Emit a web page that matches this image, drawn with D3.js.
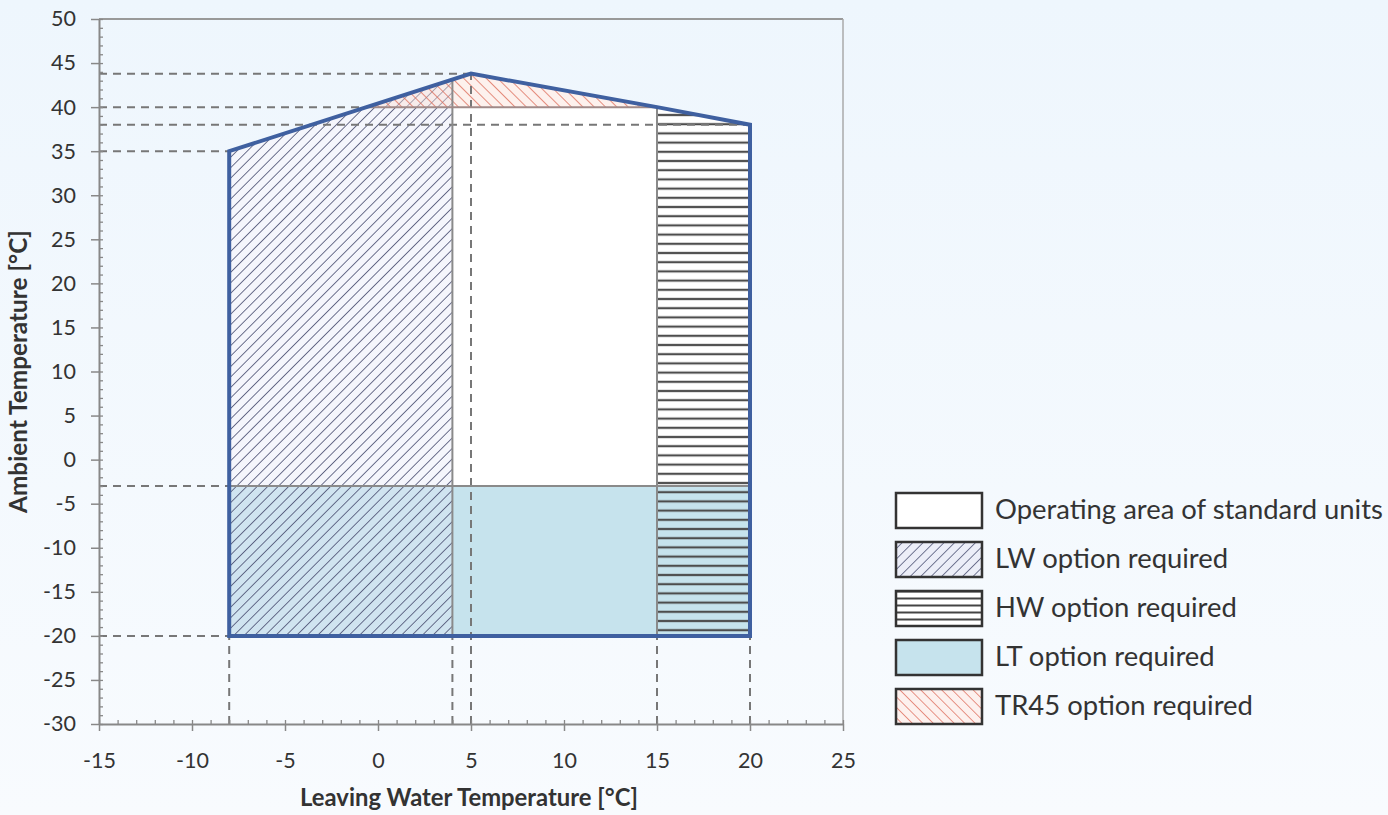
<!DOCTYPE html>
<html>
<head>
<meta charset="utf-8">
<script src="https://cdn.jsdelivr.net/npm/d3@7"></script>
<style>
  html, body { margin: 0; padding: 0; }
  body { width: 1388px; height: 815px; overflow: hidden;
         background: linear-gradient(#eef6fd, #f8fbfe); }
  text { font-family: Lato, "Open Sans", sans-serif; fill: #333; }
</style>
</head>
<body>
<svg id="chart" width="1388" height="815"></svg>
<script>
// ---------- data ----------
const xTicks = [-15, -10, -5, 0, 5, 10, 15, 20, 25];
const yTicks = [-30, -25, -20, -15, -10, -5, 0, 5, 10, 15, 20, 25, 30, 35, 40, 45, 50];
const envelopeX = [-8, -8, 5, 15, 20, 20];
const envelopeY = [-20, 35, 43.8, 40, 38, -20];
const lwRange = [-8, 4];          // LW option: leaving water range
const hwRange = [15, 20];         // HW option: leaving water range
const ltRange = [-20, -3];        // LT option: ambient range
const tr45Min = 40;               // TR45 option above this ambient
const refHY = [43.8, 40, 38, 35, -3, -20];      // horizontal dashed guide values
const refHXEnd = [5, null, 20, -8, -8, -8];    // x where guide ends (null = meets envelope)
const refVX = [-8, 4, 5, 15, 20];               // vertical dashed guide values
const refVYEnd = [-20, -20, 43.8, -20, -20];
const legendLabels = ["Operating area of standard units", "LW option required",
                      "HW option required", "LT option required", "TR45 option required"];
const legendFills = ["#ffffff", "url(#lwLeg)", "url(#hwLeg)", "#c6e3ed", "url(#trLeg)"];
const xTitle = "Leaving Water Temperature [°C]";
const yTitle = "Ambient Temperature [°C]";

// ---------- scales ----------
const svg = d3.select("#chart");
const x = d3.scaleLinear().domain([-15, 25]).range([99, 843]);
const y = d3.scaleLinear().domain([-30, 50]).range([724, 19]);
const fmt = d => String(d);   // plain hyphen-minus like the original

const envPts = envelopeX.map((v, i) => [v, envelopeY[i]]);
const topPts = envPts.slice(1, 5);
function topAt(xv) {
  for (let i = 0; i < topPts.length - 1; i++) {
    const [x0, y0] = topPts[i], [x1, y1] = topPts[i + 1];
    if (xv >= x0 && xv <= x1) return y0 + (y1 - y0) * (xv - x0) / (x1 - x0);
  }
  return null;
}
function xAtTopLeft(yv) {
  const [x0, y0] = topPts[0], [x1, y1] = topPts[1];
  return x0 + (x1 - x0) * (yv - y0) / (y1 - y0);
}

// ---------- patterns ----------
const defs = svg.append("defs");
function hatch(id, spacing, angle, color, width, bg) {
  const p = defs.append("pattern").attr("id", id).attr("patternUnits", "userSpaceOnUse")
    .attr("width", spacing).attr("height", spacing)
    .attr("patternTransform", `rotate(${angle})`);
  if (bg) p.append("rect").attr("width", spacing).attr("height", spacing).attr("fill", bg);
  p.append("line").attr("x1", 0).attr("y1", 0).attr("x2", 0).attr("y2", spacing)
    .attr("stroke", color).attr("stroke-width", width);
}
function stripes(id, spacing, color, width, bg) {
  const p = defs.append("pattern").attr("id", id).attr("patternUnits", "userSpaceOnUse")
    .attr("width", 20).attr("height", spacing);
  if (bg) p.append("rect").attr("width", 20).attr("height", spacing).attr("fill", bg);
  p.append("line").attr("x1", 0).attr("x2", 20).attr("y1", spacing / 2).attr("y2", spacing / 2)
    .attr("stroke", color).attr("stroke-width", width);
}
hatch("lw", 7.4, 45, "#4a4f72", 1.6, null);
hatch("tr", 8, -45, "#dd6a58", 1.5, null);
stripes("hw", 9.2, "#4d4d4d", 2.2, null);
hatch("lwLeg", 7.4, 45, "#4a4f72", 1.5, "#eceef8");
hatch("trLeg", 7.4, -45, "#dd6a58", 1.4, "#fdf1ee");
stripes("hwLeg", 7, "#444", 2, "#ffffff");

const envLine = d3.line().x(d => x(d[0])).y(d => y(d[1]));
defs.append("clipPath").attr("id", "envClip").append("path")
  .attr("d", envLine(envPts) + "Z");

// ---------- frame ----------
svg.append("line").attr("x1", x(-15)).attr("x2", x(25)).attr("y1", y(50)).attr("y2", y(50))
  .attr("stroke", "#999").attr("stroke-width", 1.8);
svg.append("line").attr("x1", x(25)).attr("x2", x(25)).attr("y1", y(50)).attr("y2", y(-30))
  .attr("stroke", "#aaa").attr("stroke-width", 1.5);

// ---------- regions ----------
const regions = svg.append("g").attr("clip-path", "url(#envClip)");
regions.append("path").attr("d", envLine(envPts) + "Z").attr("fill", "#ffffff");
regions.append("rect").attr("x", x(envelopeX[0])).attr("width", x(d3.max(envelopeX)) - x(envelopeX[0]))
  .attr("y", y(ltRange[1])).attr("height", y(ltRange[0]) - y(ltRange[1])).attr("fill", "#c6e3ed");
regions.append("rect").attr("x", x(lwRange[0])).attr("width", x(lwRange[1]) - x(lwRange[0]))
  .attr("y", y(50)).attr("height", y(-20) - y(50)).attr("fill", "rgba(225,228,245,0.35)");
regions.append("rect").attr("x", x(lwRange[0])).attr("width", x(lwRange[1]) - x(lwRange[0]))
  .attr("y", y(50)).attr("height", y(-20) - y(50)).attr("fill", "url(#lw)");
regions.append("rect").attr("x", x(hwRange[0])).attr("width", x(hwRange[1]) - x(hwRange[0]))
  .attr("y", y(50)).attr("height", y(-20) - y(50)).attr("fill", "url(#hw)");
regions.append("rect").attr("x", x(-15)).attr("width", x(25) - x(-15))
  .attr("y", y(50)).attr("height", y(tr45Min) - y(50)).attr("fill", "rgba(250,225,215,0.45)");
regions.append("rect").attr("x", x(-15)).attr("width", x(25) - x(-15))
  .attr("y", y(50)).attr("height", y(tr45Min) - y(50)).attr("fill", "url(#tr)");

// ---------- dashed guides ----------
const dash = svg.append("g").attr("stroke", "#777").attr("stroke-width", 2)
  .attr("stroke-dasharray", "8,6").attr("fill", "none");
refHY.forEach((v, i) => {
  const xe = refHXEnd[i] === null ? xAtTopLeft(v) : refHXEnd[i];
  dash.append("line").attr("x1", x(-15)).attr("x2", x(xe)).attr("y1", y(v)).attr("y2", y(v));
});
refVX.forEach((v, i) => {
  dash.append("line").attr("x1", x(v)).attr("x2", x(v)).attr("y1", y(-30)).attr("y2", y(refVYEnd[i]));
});

// ---------- solid dividers ----------
const solid = svg.append("g").attr("stroke", "#8a8a8a").attr("stroke-width", 2);
solid.append("line").attr("x1", x(lwRange[1])).attr("x2", x(lwRange[1]))
  .attr("y1", y(ltRange[0])).attr("y2", y(topAt(lwRange[1])));
solid.append("line").attr("x1", x(hwRange[0])).attr("x2", x(hwRange[0]))
  .attr("y1", y(ltRange[0])).attr("y2", y(topAt(hwRange[0])));
solid.append("line").attr("x1", x(envelopeX[0])).attr("x2", x(d3.max(envelopeX)))
  .attr("y1", y(ltRange[1])).attr("y2", y(ltRange[1]));
solid.append("line").attr("x1", x(xAtTopLeft(tr45Min))).attr("x2", x(hwRange[0]))
  .attr("y1", y(tr45Min)).attr("y2", y(tr45Min)).attr("stroke", "#a08a88");

// ---------- envelope ----------
svg.append("path").attr("d", envLine(envPts) + "Z").attr("fill", "none")
  .attr("stroke", "#3f60a0").attr("stroke-width", 4).attr("stroke-linejoin", "miter");

// ---------- axes ----------
const minorX = d3.range(-15, 26, 1), minorY = d3.range(-30, 51, 1);
const gx = svg.append("g").attr("transform", `translate(0,${y(-30)})`);
gx.call(d3.axisBottom(x).tickValues(minorX).tickSize(-4).tickFormat(""));
gx.selectAll(".tick line").attr("stroke", "#888").attr("stroke-width", 1.3);
gx.select(".domain").remove();
const gx2 = svg.append("g").attr("transform", `translate(0,${y(-30)})`)
  .call(d3.axisBottom(x).tickValues(xTicks).tickSize(7).tickSizeOuter(0).tickPadding(22)
    .tickFormat(fmt));
gx2.selectAll(".tick line").attr("stroke", "#888").attr("stroke-width", 1.5);
gx2.select(".domain").attr("stroke", "#888").attr("stroke-width", 2);

const gy = svg.append("g").attr("transform", `translate(${x(-15)},0)`);
gy.call(d3.axisLeft(y).tickValues(minorY).tickSize(-4).tickFormat(""));
gy.selectAll(".tick line").attr("stroke", "#888").attr("stroke-width", 1.3);
gy.select(".domain").remove();
const gy2 = svg.append("g").attr("transform", `translate(${x(-15)},0)`)
  .call(d3.axisLeft(y).tickValues(yTicks).tickSize(8).tickSizeOuter(0).tickPadding(15)
    .tickFormat(fmt));
gy2.selectAll(".tick line").attr("stroke", "#888").attr("stroke-width", 1.5);
gy2.select(".domain").attr("stroke", "#888").attr("stroke-width", 2);
svg.selectAll(".tick text").style("font-family", "Lato, sans-serif")
  .style("font-size", "21.5px").attr("fill", "#2e2e2e");

function fit(sel, width, start) {
  sel.style("font-size", start + "px");
  const w = sel.node().getComputedTextLength();
  sel.style("font-size", (start * width / w) + "px");
}

// titles
const xt = svg.append("text").attr("x", 469).attr("y", 806).attr("text-anchor", "middle")
  .style("font-weight", "bold").attr("fill", "#2a2a2a").text(xTitle);
fit(xt, 338, 20);
const yt = svg.append("text").attr("transform", `translate(27,${(y(-30)+y(50))/2}) rotate(-90)`)
  .attr("text-anchor", "middle").style("font-weight", "bold").attr("fill", "#2a2a2a").text(yTitle);
fit(yt, 283, 20);

// ---------- legend ----------
const leg = svg.append("g");
legendLabels.forEach((lab, i) => {
  const yy = 493 + i * 49;
  leg.append("rect").attr("x", 896).attr("y", yy).attr("width", 86).attr("height", 35)
    .attr("fill", legendFills[i]).attr("stroke", "#333").attr("stroke-width", 2.5);
  const t = leg.append("text").attr("x", 995).attr("y", yy + 26).style("font-size", "22px")
    .attr("fill", "#2e2e2e").text(lab);
  if (i === 0) fit(t, 388, 22);
});
const legFs = leg.select("text").style("font-size");
leg.selectAll("text").style("font-size", legFs);
</script>
</body>
</html>
